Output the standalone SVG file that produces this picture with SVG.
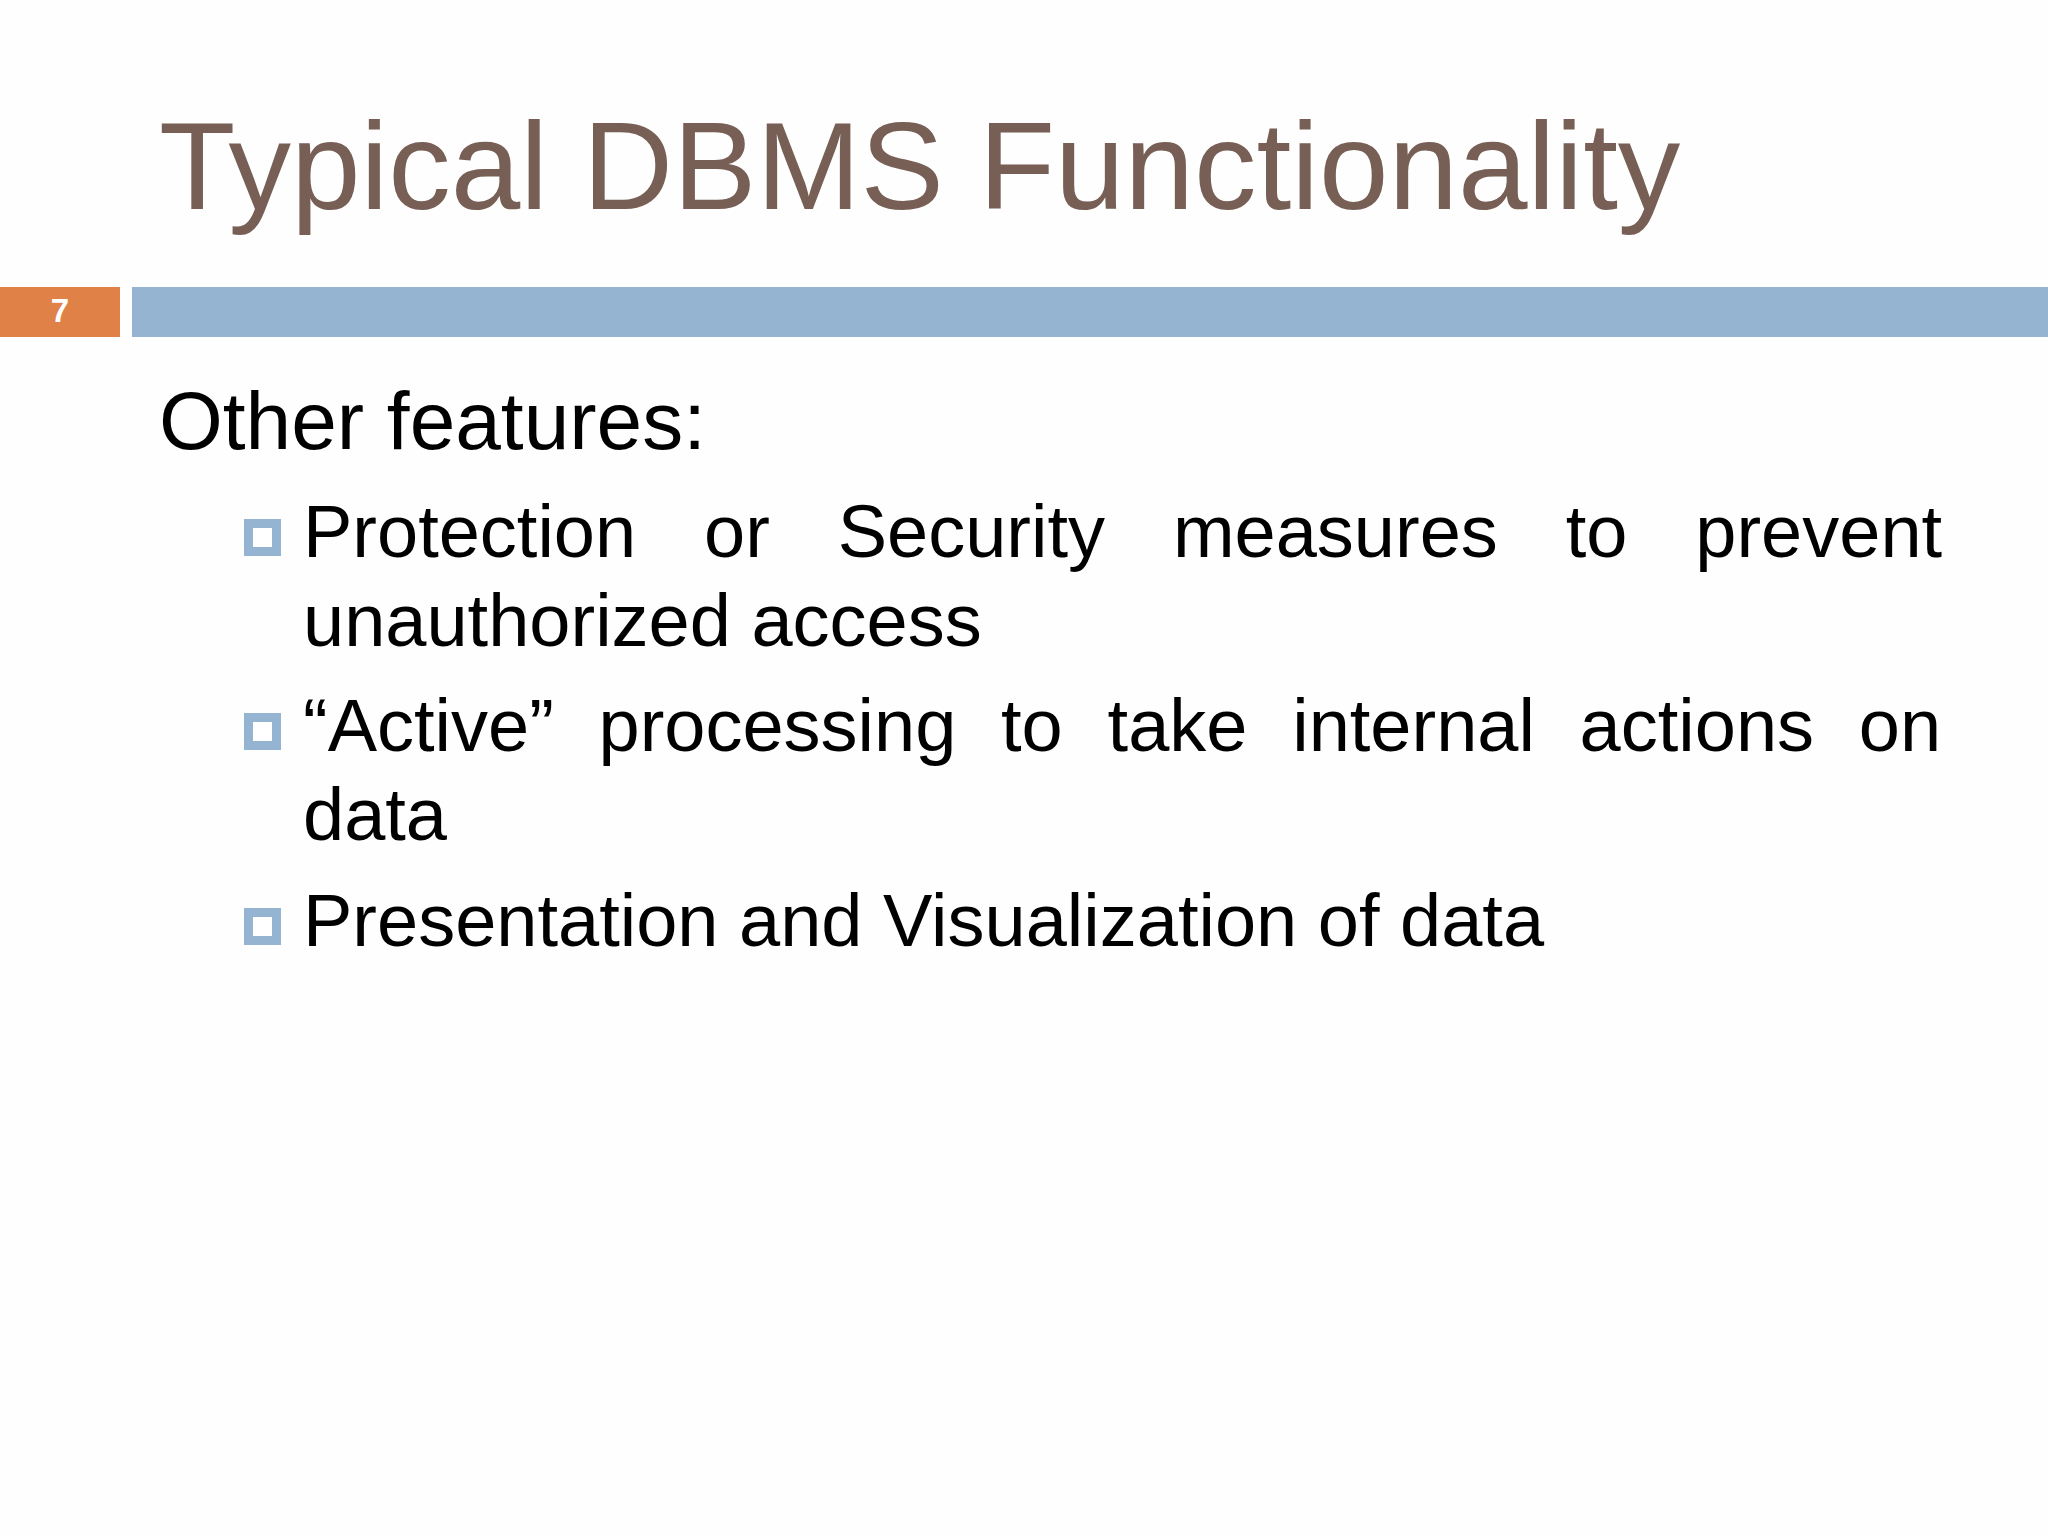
<svg xmlns="http://www.w3.org/2000/svg" width="2048" height="1536" viewBox="0 0 2048 1536">
<style>
.title{font-family:"Liberation Sans",Arial,sans-serif;font-size:125px;fill:#775F55}
.num{font-family:"Liberation Sans",Arial,sans-serif;font-size:33px;font-weight:bold;fill:#FFFFFF}
.body{font-family:"Liberation Sans",Arial,sans-serif;font-size:82px;fill:#000000}
.item{font-family:"Liberation Sans",Arial,sans-serif;font-size:74px;fill:#000000}
.bullet{fill:#FFFFFF;stroke:#94B4D1;stroke-width:9}
</style>
<rect x="0" y="0" width="2048" height="1536" fill="#FEFEFE"/>
<g id="title"><text class="title" x="159" y="209">Typical DBMS Functionality</text></g>
<g id="header-bar">
<rect x="0" y="287" width="120" height="50" fill="#E08148"/>
<text class="num" x="60" y="322" text-anchor="middle">7</text>
<rect x="132" y="287" width="1916" height="50" fill="#95B4D1"/>
</g>
<g id="heading"><text class="body" x="159" y="449">Other features:</text></g>
<g id="item1">
<rect class="bullet" x="248.5" y="523.5" width="28" height="28"/>
<text class="item" y="557"><tspan x="303">Protection</tspan><tspan x="704">or</tspan><tspan x="837.7">Security</tspan><tspan x="1172.9">measures</tspan><tspan x="1565.7">to</tspan><tspan x="1695.3">prevent</tspan></text>
<text class="item" x="303" y="646">unauthorized access</text>
</g>
<g id="item2">
<rect class="bullet" x="248.5" y="717.5" width="28" height="28"/>
<text class="item" y="751"><tspan x="303">“Active”</tspan><tspan x="598.5">processing</tspan><tspan x="1001">to</tspan><tspan x="1107.6">take</tspan><tspan x="1292.2">internal</tspan><tspan x="1579.6">actions</tspan><tspan x="1858.8">on</tspan></text>
<text class="item" x="303" y="840">data</text>
</g>
<g id="item3">
<rect class="bullet" x="248.5" y="912.5" width="28" height="28"/>
<text class="item" x="303" y="946">Presentation and Visualization of data</text>
</g>
</svg>
